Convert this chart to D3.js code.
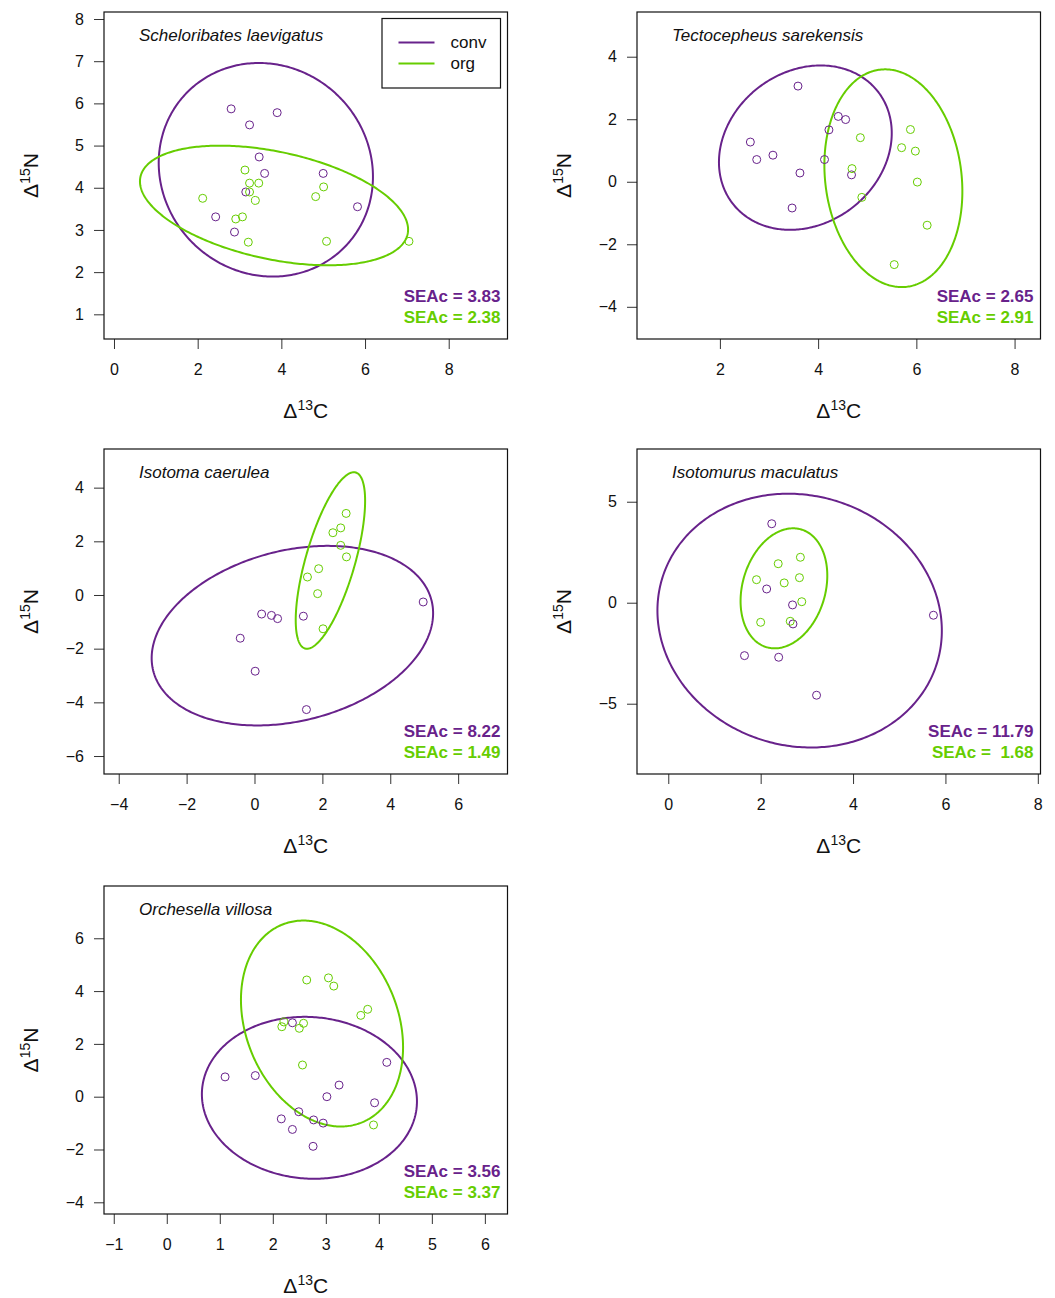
<!DOCTYPE html>
<html><head><meta charset="utf-8">
<script src="https://cdn.jsdelivr.net/npm/d3@7"></script>
<style>
body{margin:0;background:#fff}
text{font-family:Arial,"Liberation Sans",Helvetica,sans-serif}
</style>
</head><body>
<svg id="chart" width="1055" height="1298" xmlns="http://www.w3.org/2000/svg"></svg>
<script>
// ---------------- DATA ----------------
const speciesNames = ["Scheloribates laevigatus","Tectocepheus sarekensis","Isotoma caerulea","Isotomurus maculatus","Orchesella villosa"];
const groupNames = ["conv","org"];

const scheloribatesConv = [[2.80,5.87],[3.90,5.78],[3.24,5.49],[3.47,4.73],[3.60,4.34],[5.00,4.34],[3.15,3.90],[5.82,3.55],[2.43,3.31],[2.88,2.95]];
const scheloribatesOrg  = [[3.13,4.42],[3.24,4.11],[3.46,4.11],[3.24,3.90],[5.01,4.02],[2.12,3.75],[3.38,3.70],[4.82,3.79],[3.07,3.31],[2.91,3.26],[3.21,2.71],[5.08,2.73],[7.05,2.73]];

const tectocepheusConv = [[3.59,3.06],[4.41,2.09],[4.56,1.99],[4.22,1.66],[2.62,1.27],[2.75,0.71],[3.08,0.85],[4.13,0.71],[3.63,0.28],[4.68,0.22],[3.47,-0.84]];
const tectocepheusOrg  = [[5.88,1.67],[4.86,1.41],[5.70,1.09],[5.98,0.98],[4.69,0.42],[6.02,-0.01],[4.89,-0.50],[6.22,-1.39],[5.55,-2.65]];

const isotomaConv = [[0.21,-0.71],[0.50,-0.76],[0.68,-0.88],[1.44,-0.79],[4.97,-0.26],[-0.42,-1.61],[0.02,-2.84],[1.53,-4.27]];
const isotomaOrg  = [[2.70,3.04],[2.54,2.50],[2.31,2.32],[2.54,1.85],[2.71,1.42],[1.89,0.98],[1.56,0.67],[1.86,0.05],[2.02,-1.26]];

const isotomurusConv = [[2.24,3.91],[2.13,0.68],[2.69,-0.11],[2.70,-1.05],[5.74,-0.62],[1.65,-2.62],[2.39,-2.70],[3.21,-4.58]];
const isotomurusOrg  = [[2.86,2.25],[2.38,1.93],[1.91,1.14],[2.51,0.98],[2.84,1.24],[2.89,0.05],[2.00,-0.97],[2.64,-0.92]];

const orchesellaConv = [[2.37,2.80],[1.10,0.75],[1.67,0.80],[4.15,1.30],[3.25,0.44],[3.02,0.00],[3.92,-0.23],[2.49,-0.57],[2.16,-0.84],[2.77,-0.88],[2.95,-1.00],[2.37,-1.24],[2.76,-1.88]];
const orchesellaOrg  = [[2.64,4.42],[3.05,4.50],[3.15,4.19],[3.79,3.31],[3.66,3.08],[2.58,2.78],[2.50,2.59],[2.17,2.65],[2.21,2.83],[2.56,1.20],[3.90,-1.07]];

const convData = [scheloribatesConv, tectocepheusConv, isotomaConv, isotomurusConv, orchesellaConv];
const orgData  = [scheloribatesOrg, tectocepheusOrg, isotomaOrg, isotomurusOrg, orchesellaOrg];

const seacConv = ["3.83","2.65","8.22","11.79","3.56"];
const seacOrg  = ["2.38","2.91","1.49"," 1.68","3.37"];

const xLims = [[-0.239,9.405],[0.312,8.528],[-4.434,7.454],[-0.677,8.058],[-1.184,6.427]];
const yLims = [[0.415,8.166],[-5.03,5.43],[-6.67,5.44],[-8.48,7.61],[-4.443,7.98]];
const xTicks = [[0,2,4,6,8],[2,4,6,8],[-4,-2,0,2,4,6],[0,2,4,6,8],[-1,0,1,2,3,4,5,6]];
const yTicks = [[1,2,3,4,5,6,7,8],[-4,-2,0,2,4],[-6,-4,-2,0,2,4],[-5,0,5],[-4,-2,0,2,4,6]];

// ---------------- STYLE / LAYOUT ----------------
const colors = {conv:"#68228B", org:"#66CD00"};
const colLeft = [104, 637];
const boxW = 403.5;
const rowTop = [12, 449, 886];
const rowBottom = [339, 774, 1214];
const chi95 = Math.sqrt(5.991464547);

const svg = d3.select("#chart");

function ellipse(pts){
  const n = pts.length;
  const mx = d3.mean(pts, d => d[0]), my = d3.mean(pts, d => d[1]);
  let sxx = 0, syy = 0, sxy = 0;
  pts.forEach(([x,y]) => { sxx += (x-mx)**2; syy += (y-my)**2; sxy += (x-mx)*(y-my); });
  sxx /= (n-1); syy /= (n-1); sxy /= (n-1);
  const tr = sxx + syy, det = sxx*syy - sxy*sxy;
  const disc = Math.sqrt(Math.max(0, tr*tr/4 - det));
  const l1 = tr/2 + disc, l2 = tr/2 - disc;
  const th = 0.5*Math.atan2(2*sxy, sxx - syy);
  const a = chi95*Math.sqrt(l1), b = chi95*Math.sqrt(Math.max(l2,0));
  return d3.range(0, 361).map(i => {
    const t = i*Math.PI/180, ex = a*Math.cos(t), ey = b*Math.sin(t);
    return [mx + ex*Math.cos(th) - ey*Math.sin(th), my + ex*Math.sin(th) + ey*Math.cos(th)];
  });
}

speciesNames.forEach((name, i) => {
  const row = Math.floor(i/2), col = i % 2;
  const L = colLeft[col], R = L + boxW, T = rowTop[row], B = rowBottom[row];
  const x = d3.scaleLinear().domain(xLims[i]).range([L, R]);
  const y = d3.scaleLinear().domain(yLims[i]).range([B, T]);
  const g = svg.append("g");

  const clipId = "clip" + i;
  g.append("clipPath").attr("id", clipId).append("rect")
    .attr("x", L).attr("y", T).attr("width", R-L).attr("height", B-T);

  // axes
  const fmt = d3.format("");
  const ax = g.append("g").attr("transform", `translate(0,${B})`)
    .call(d3.axisBottom(x).tickValues(xTicks[i]).tickSize(10).tickPadding(15).tickFormat(fmt));
  const ay = g.append("g").attr("transform", `translate(${L},0)`)
    .call(d3.axisLeft(y).tickValues(yTicks[i]).tickSize(10).tickPadding(10).tickFormat(fmt));
  [ax, ay].forEach(a => {
    a.select(".domain").remove();
    a.selectAll(".tick line").attr("stroke", "#333").attr("stroke-width", 1);
    a.selectAll(".tick text").attr("font-size", 16).style("fill", "#111")
      .attr("font-family", "Arial, 'Liberation Sans', sans-serif");
  });

  // box
  g.append("rect").attr("x", L).attr("y", T).attr("width", R-L).attr("height", B-T)
    .attr("fill", "none").attr("stroke", "#111").attr("stroke-width", 1.2);

  // axis titles
  const xl = g.append("text").attr("x", (L+R)/2).attr("y", B + 79)
    .attr("text-anchor", "middle").attr("font-size", 21).style("fill", "#111");
  xl.append("tspan").text("Δ");
  xl.append("tspan").attr("font-size", 14).attr("dy", -8).text("13");
  xl.append("tspan").attr("dy", 8).text("C");

  const yl = g.append("text")
    .attr("transform", `translate(${L-66},${(T+B)/2}) rotate(-90)`)
    .attr("text-anchor", "middle").attr("font-size", 21).style("fill", "#111");
  yl.append("tspan").text("Δ");
  yl.append("tspan").attr("font-size", 14).attr("dy", -8).text("15");
  yl.append("tspan").attr("dy", 8).text("N");

  // title
  g.append("text").attr("x", L + 35).attr("y", T + 29)
    .attr("font-size", 17).attr("font-style", "italic").style("fill", "#111").text(name);

  // ellipses and points
  const line = d3.line().x(d => x(d[0])).y(d => y(d[1]));
  const groups = [["conv", convData[i]], ["org", orgData[i]]];
  const plot = g.append("g").attr("clip-path", `url(#${clipId})`);
  groups.forEach(([gname, pts]) => {
    plot.append("path").attr("d", line(ellipse(pts)) + "Z")
      .attr("fill", "none").attr("stroke", colors[gname]).attr("stroke-width", 2);
  });
  groups.forEach(([gname, pts]) => {
    plot.selectAll(null).data(pts).enter().append("circle")
      .attr("cx", d => x(d[0])).attr("cy", d => y(d[1])).attr("r", 4)
      .attr("fill", "none").attr("stroke", colors[gname]).attr("stroke-width", 1);
  });

  // SEAc labels
  g.append("text").attr("x", R - 7).attr("y", B - 37).attr("text-anchor", "end")
    .attr("font-size", 17).attr("font-weight", "bold").style("fill", colors.conv)
    .attr("xml:space", "preserve").style("white-space", "pre")
    .text("SEAc = " + seacConv[i]);
  g.append("text").attr("x", R - 7).attr("y", B - 16).attr("text-anchor", "end")
    .attr("font-size", 17).attr("font-weight", "bold").style("fill", colors.org)
    .attr("xml:space", "preserve").style("white-space", "pre")
    .text("SEAc = " + seacOrg[i]);

  // legend (first panel only)
  if (i === 0) {
    const lg = g.append("g");
    lg.append("rect").attr("x", R - 125.5).attr("y", T + 6.5).attr("width", 118.5).attr("height", 69.5)
      .attr("fill", "#fff").attr("stroke", "#111").attr("stroke-width", 1.2);
    groupNames.forEach((gn, k) => {
      const ly = T + 30.5 + k*21;
      lg.append("line").attr("x1", R - 109).attr("x2", R - 73).attr("y1", ly).attr("y2", ly)
        .attr("stroke", colors[gn]).attr("stroke-width", 2);
      lg.append("text").attr("x", R - 57).attr("y", ly + 5.5).attr("font-size", 17)
        .style("fill", "#111").text(gn);
    });
  }
});
</script>
</body></html>
